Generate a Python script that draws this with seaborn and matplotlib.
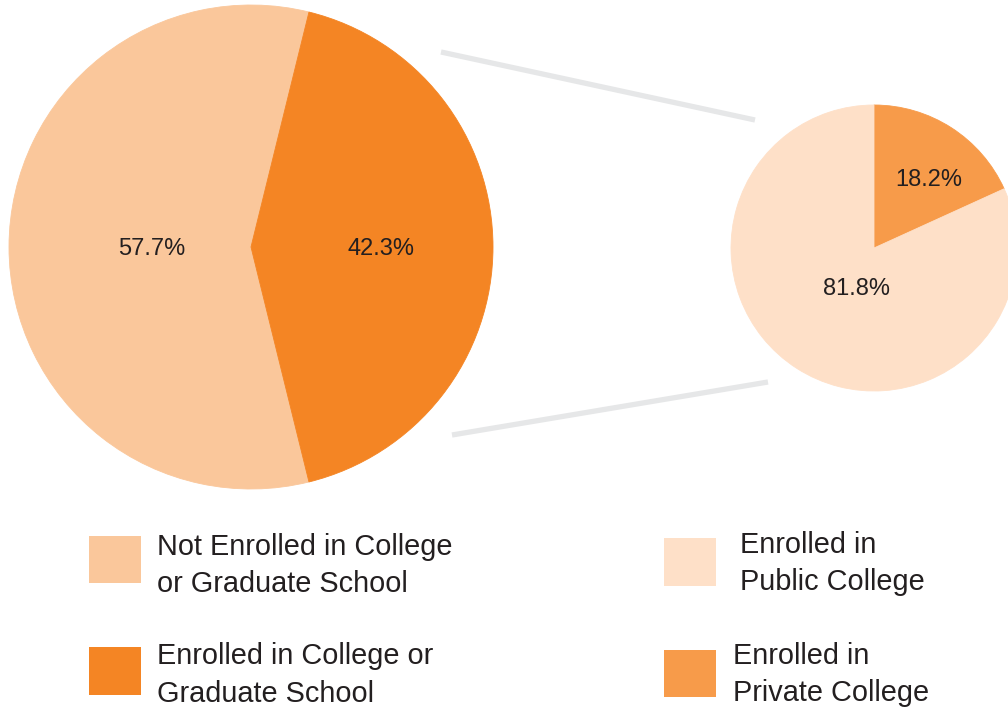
import matplotlib
matplotlib.use("Agg")
import matplotlib.pyplot as plt
from matplotlib.patches import Rectangle
import seaborn as sns

# --- data -------------------------------------------------------------
overall_labels = ["Not Enrolled in College\nor Graduate School",
                  "Enrolled in College or\nGraduate School"]
overall_pct = [57.7, 42.3]

college_labels = ["Enrolled in\nPublic College",
                  "Enrolled in\nPrivate College"]
college_pct = [81.8, 18.2]

# --- style ------------------------------------------------------------
sns.set_theme(style="white")
plt.rcParams["font.family"] = ["Liberation Sans", "DejaVu Sans"]

overall_colors = sns.color_palette(["#FAC79B", "#F48524"])
college_colors = sns.color_palette(["#FEE0C8", "#F79B4A"])
TEXT = "#231F20"
LINK = "#E6E7E8"

W, H = 1008, 708
fig = plt.figure(figsize=(W / 100, H / 100), dpi=100)
ax = fig.add_axes([0, 0, 1, 1])


def Y(y):
    """Convert a top-down pixel row into the axes' upward y coordinate."""
    return H - y


def seal_edges(wedges):
    # paint each wedge's outline in its own fill so no seam shows
    for w in wedges:
        w.set_edgecolor(w.get_facecolor())
        w.set_linewidth(0.6)


# connector lines between the two pies (drawn beneath)
ax.plot([441, 755], [Y(52), Y(120)], color=LINK, lw=3.8, solid_capstyle="butt", zorder=1)
ax.plot([452, 768], [Y(435), Y(382)], color=LINK, lw=3.8, solid_capstyle="butt", zorder=1)

# large pie: enrolled slice centred on the right-hand side
big, _ = ax.pie(overall_pct, colors=overall_colors, center=(251, Y(247)), radius=242,
                startangle=3.6 * overall_pct[1] / 2, counterclock=True, frame=True)
seal_edges(big)

# small pie: private slice starts at 12 o'clock, runs clockwise
small, _ = ax.pie(college_pct[::-1], colors=college_colors[::-1], center=(874, Y(248)),
                  radius=143, startangle=90, counterclock=False, frame=True)
seal_edges(small)

# percentage labels
pct_pos = [((152, 255), overall_pct[0]), ((381, 255), overall_pct[1]),
           ((857, 295), college_pct[0]), ((929, 186), college_pct[1])]
for (x, y), v in pct_pos:
    ax.text(x, Y(y), f"{v:.1f}%", ha="center", va="baseline",
            fontsize=17, color=TEXT, zorder=5)

# legend swatches and two-line captions
legend_items = [
    (overall_labels[0], overall_colors[0], (89, 536, 52, 47), (157, 555, 592)),
    (overall_labels[1], overall_colors[1], (89, 647, 52, 48), (157, 664, 702)),
    (college_labels[0], college_colors[0], (664, 538, 52, 48), (740, 553, 590)),
    (college_labels[1], college_colors[1], (664, 650, 52, 47), (733, 664, 701)),
]
for label, color, (sx, sy, sw, sh), (tx, b1, b2) in legend_items:
    ax.add_patch(Rectangle((sx, Y(sy + sh)), sw, sh, facecolor=color,
                           edgecolor="none", zorder=3))
    line1, line2 = label.split("\n")
    ax.text(tx, Y(b1), line1, ha="left", va="baseline", fontsize=20.8, color=TEXT)
    ax.text(tx, Y(b2), line2, ha="left", va="baseline", fontsize=20.8, color=TEXT)

ax.set_xlim(0, W)
ax.set_ylim(0, H)
ax.set_aspect("auto")
ax.set_axis_off()

fig.savefig("out.png", dpi=100, facecolor="white")
